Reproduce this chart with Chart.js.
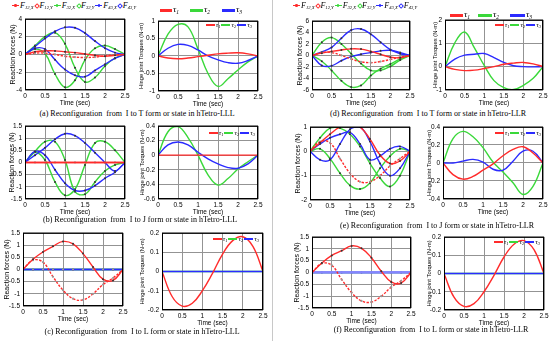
<!DOCTYPE html>
<html>
<head>
<meta charset="utf-8">
<script src="https://cdn.jsdelivr.net/npm/chart.js@4.4.1/dist/chart.umd.min.js"></script>
<style>
  body { margin: 0; width: 550px; height: 341px; position: relative; overflow: hidden; background: #fff; }
  canvas { position: absolute; }
  .cap { position: absolute; font: 8px "Liberation Serif", serif; white-space: pre; transform: translateX(-50%); line-height: 10px; }
  .abs { position: absolute; white-space: nowrap; }
  .sym { font: italic 9px "Liberation Serif", serif; line-height: 10px; }
  .sym sub { font-size: 5.5px; vertical-align: baseline; position: relative; top: 2px; }
  .flg { position: absolute; top: 0; height: 11px; display: flex; align-items: center; white-space: nowrap; font: italic 8px "Liberation Serif", serif; line-height: 10px; }
  .flg .it { display: inline-flex; align-items: center; margin-right: 1px; }
  .flg .mk { position: relative; display: inline-block; height: 6px; margin-right: 1px; }
  .flg sub { font-size: 4.6px; vertical-align: baseline; position: relative; top: 2px; }
  .mini { position: absolute; display: flex; align-items: center; font: italic 7px "Liberation Serif", serif; line-height: 8px; }
  .mini i { display: inline-block; width: 9px; height: 1.5px; margin-right: 1px; }
  .mini sub { font-size: 4.5px; vertical-align: baseline; position: relative; top: 1.5px; margin-right: 1px; }
  #divider { position: absolute; left: 272px; top: 0; width: 1px; height: 341px; background: #c8c8c8; }
</style>
</head>
<body>
<div id="divider"></div>
<script>
'use strict'
/* global Chart */

const t = [0, 0.25, 0.5, 0.75, 1, 1.25, 1.5, 1.75, 2, 2.25, 2.5]
const zero = [0, 0, 0, 0, 0, 0, 0, 0, 0, 0, 0]
const timeTicks = [0, 0.5, 1, 1.5, 2, 2.5]

// (a) I to T, hTetro-LLL
const aF12x = [0, 0.3, 0.4, 0.4, 0.3, 0.2, 0.05, -0.1, -0.2, -0.1, 0]
const aF12y = [0, 0.15, 0.15, 0, -0.2, -0.3, -0.35, -0.3, -0.15, -0.05, 0]
const aF32x = [0, 1.0, 2.0, 2.45, 1.2, -1.5, -3.1, -2.6, -1.3, -0.4, 0]
const aF32y = [0, 0.6, 0.1, -2.2, -3.7, -2.9, -0.6, 0.7, 1.0, 0.6, 0]
const aF43x = [0, 0.9, 1.8, 2.6, 3.05, 3.0, 2.4, 1.5, 0.7, 0.2, 0]
const aF43y = [0, 0.7, 0.6, -0.6, -1.7, -2.35, -2.5, -1.8, -1.1, -0.45, 0]
const aT1 = [0, -0.06, -0.08, -0.06, -0.02, 0.02, 0.06, 0.08, 0.09, 0.06, 0]
const aT2 = [0, 0.62, 0.9, 0.83, 0.2, -0.5, -0.87, -0.65, -0.4, -0.17, 0]
const aT3 = [0, 0.22, 0.33, 0.3, 0.17, 0.0, -0.11, -0.19, -0.21, -0.13, 0]
const aForceTicks = [-4, -2, 0, 2, 4]
const aTorqueTicks = [-1, -0.5, 0, 0.5, 1]

// (b) I to J, hTetro-LLL
const bF32x = [0, 0.45, 0.85, 0.85, 0.1, -1.2, -1.3, -0.8, -0.35, -0.1, 0]
const bF32y = [0, 0.42, 0.1, -0.8, -1.35, -1.1, -0.1, 0.8, 0.85, 0.5, 0]
const bF43x = [0, 0.3, 0.6, 0.95, 1.18, 1.1, 0.8, 0.4, 0.0, -0.35, 0]
const bF43y = [0, 0.45, 0.3, -0.3, -0.85, -1.15, -1.15, -0.95, -0.65, -0.4, 0]
const bT2 = [0, 0.32, 0.39, 0.24, 0.0, -0.27, -0.41, -0.32, -0.19, -0.09, 0]
const bT3 = [0, 0.14, 0.18, 0.14, 0.04, -0.05, -0.12, -0.17, -0.18, -0.12, 0]
const bForceTicks = [-1.5, -1, -0.5, 0, 0.5, 1, 1.5]
const bTorqueTicks = [-0.6, -0.4, -0.2, 0, 0.2, 0.4]

// (c) I to L, hTetro-LLL
const cF12x = [0, 0.42, 0.72, 0.95, 1.15, 1.05, 0.65, 0.1, -0.4, -0.45, 0]
const cF12y = [0, 0.38, 0.3, -0.3, -0.85, -1.2, -1.25, -1.0, -0.62, -0.35, 0]
const cT1 = [0, -0.13, -0.18, -0.165, -0.1, -0.01, 0.09, 0.16, 0.18, 0.13, 0]
const cForceTicks = [-1.5, -1, -0.5, 0, 0.5, 1, 1.5]
const cTorqueTicks = [-0.2, -0.1, 0, 0.1, 0.2]

// (d) I to T, hTetro-LLR
const dF12x = [0, 0.4, 0.7, 0.95, 1.15, 1.1, 0.7, 0.2, -0.3, -0.4, 0]
const dF12y = [0, 0.5, 0.5, 0.0, -0.6, -1.1, -1.25, -1.05, -0.7, -0.3, 0]
const dF32x = [0, 2.3, 3.1, 2.0, 0.3, -1.4, -2.6, -2.6, -1.9, -0.8, 0]
const dF32y = [0, -1.0, -2.6, -4.4, -5.5, -5.2, -3.5, -2.3, -1.5, -0.6, 0]
const dF43x = [0, 0.6, 1.4, 3.0, 4.4, 4.6, 3.7, 2.3, 1.0, 0.3, 0]
const dF43y = [0, -1.75, -1.8, -0.9, -0.2, 0.2, 0.5, 0.8, 0.9, 0.5, 0]
const dT1 = [0, -0.12, -0.17, -0.15, -0.08, 0.0, 0.1, 0.15, 0.18, 0.12, 0]
const dT2 = [0, 1.02, 1.48, 0.8, 0.05, -0.6, -0.9, -0.98, -0.8, -0.5, 0]
const dT3 = [0, 0.32, 0.49, 0.53, 0.56, 0.39, 0.18, 0.04, 0.0, -0.01, 0]
const dForceTicks = [-6, -4, -2, 0, 2, 4, 6]
const dTorqueTicks = [-1, 0, 1, 2]

// (e) I to J, hTetro-LLR
const eF12x = [0, 0.35, 0.7, 1.0, 1.12, 1.0, 0.5, -0.15, -0.5, -0.4, 0]
const eF12y = [0, 0.4, 0.35, -0.3, -0.9, -1.25, -1.25, -1.0, -0.6, -0.3, 0]
const eF32x = [0, 0.55, 0.95, 0.95, 0.7, 0.2, -0.5, -1.1, -1.45, -1.0, 0]
const eF32y = [0, 0.1, -0.3, -0.9, -1.4, -1.55, -1.3, -0.7, -0.2, 0.1, 0]
const eF43x = [0, 0.3, 0.55, 0.7, 0.78, 0.3, -0.35, -0.2, 0.1, 0.2, 0]
const eF43y = [0, -0.35, -0.35, 0.3, 0.9, 1.0, 0.4, -0.5, -1.0, -0.7, 0]
const eT1 = [0, -0.13, -0.18, -0.15, -0.08, -0.01, 0.08, 0.15, 0.18, 0.11, 0]
const eT2 = [0, 0.27, 0.35, 0.29, 0.17, 0.01, -0.1, -0.22, -0.35, -0.26, 0]
const eT3 = [0, 0.0, 0.02, 0.04, 0.01, -0.07, -0.08, 0.02, 0.13, 0.13, 0]
const eForceTicks = [-2, -1, 0, 1]
const eTorqueTicks = [-0.4, -0.2, 0, 0.2, 0.4]

// (f) I to L, hTetro-LLR
const fF12x = [0, 0.4, 0.72, 0.92, 1.12, 1.02, 0.62, 0.05, -0.4, -0.45, 0]
const fF12y = [0, 0.38, 0.3, -0.3, -0.85, -1.2, -1.25, -1.0, -0.62, -0.35, 0]
const fT1 = [0, -0.13, -0.18, -0.165, -0.1, -0.01, 0.09, 0.16, 0.18, 0.13, 0]
const fForceTicks = [-1.5, -1, -0.5, 0, 0.5, 1, 1.5]
const fTorqueTicks = [-0.2, -0.1, 0, 0.1, 0.2]

const forceNames = ['12,X', '12,Y', '32,X', '32,Y', '43,X', '43,Y']
const torqueNames = ['1', '2', '3']
const captions = [
  '(a) Reconfiguration  from  I to T form or state in hTetro-LLL',
  '(b) Reconfiguration  from  I to J form or state in hTetro-LLL',
  '(c) Reconfiguration  from  I to L form or state in hTetro-LLL',
  '(d) Reconfiguration  from  I to T form or state in hTetro-LLR',
  '(e) Reconfiguration  from  I to J form or state in hTetro-LLR',
  '(f) Reconfiguration  from  I to L form or state in hTetro-LLR'
]

const RED = '#ff2b2b'
const GREEN = '#3ad83a'
const BLUE = '#2b2bff'
const LIGHTBLUE = '#8585ff'
const GRID = '#939393'
const PT = 5
const PR = 8
const XH = 18
const tickFont = { family: 'Liberation Sans', size: 6.5 }

const frame = {
  id: 'frame',
  afterDraw (chart) {
    const { ctx, chartArea: a } = chart
    ctx.save()
    ctx.strokeStyle = '#000'
    ctx.lineWidth = 1
    ctx.strokeRect(a.left + 0.5, a.top + 0.5, a.right - a.left - 1, a.bottom - a.top - 1)
    ctx.restore()
  }
}

const setTicks = list => scale => { scale.ticks = list.map(value => ({ value })) }

const line = (values, color, extra) => Object.assign({
  data: t.map((x, i) => ({ x, y: values[i] })),
  borderColor: color,
  backgroundColor: color,
  borderWidth: 1.4,
  pointRadius: 0
}, extra)

const marks = { pointRadius: 1, pointBackgroundColor: '#333', pointBorderWidth: 0 }
const greyMarks = { pointRadius: 1.1, pointBackgroundColor: '#999', pointBorderWidth: 0 }

function addChart (box, yTicks, yTitle, titleSize, datasets) {
  const [left, top, right, bottom, yw] = box
  const canvas = document.createElement('canvas')
  canvas.width = right - left + yw + PR
  canvas.height = bottom - top + PT + XH
  canvas.style.left = (left - yw) + 'px'
  canvas.style.top = (top - PT) + 'px'
  document.body.appendChild(canvas)
  new Chart(canvas, {
    type: 'line',
    data: { datasets },
    options: {
      responsive: false,
      animation: false,
      devicePixelRatio: 1,
      layout: { padding: { top: PT, right: PR, left: 0, bottom: 0 } },
      plugins: { legend: { display: false }, tooltip: { enabled: false } },
      elements: { line: { tension: 0.4 } },
      scales: {
        x: {
          type: 'linear',
          min: 0,
          max: 2.5,
          afterBuildTicks: setTicks(timeTicks),
          afterFit: s => { s.height = XH },
          grid: { color: GRID, drawTicks: false },
          border: { display: false },
          ticks: { font: tickFont, color: '#000', padding: 2, maxRotation: 0, autoSkip: false, callback: v => String(v) },
          title: { display: true, text: 'Time (sec)', font: tickFont, color: '#000', padding: { top: 0, bottom: 1 } }
        },
        y: {
          min: yTicks[0],
          max: yTicks[yTicks.length - 1],
          afterBuildTicks: setTicks(yTicks),
          afterFit: s => { s.width = yw },
          grid: { color: GRID, drawTicks: false },
          border: { display: false },
          ticks: { font: tickFont, color: '#000', padding: 3, autoSkip: false, callback: v => String(v) },
          title: { display: true, text: yTitle, font: { family: 'Liberation Sans', size: titleSize }, color: '#000', padding: { top: 1, bottom: 0 } }
        }
      }
    },
    plugins: [frame]
  })
}

function forceChart (box, yTicks, s, blueZero) {
  const [x12, y12, x32, y32, x43, y43] = s
  const zeroBlue = blueZero === 'light'
    ? { borderColor: LIGHTBLUE, borderWidth: 2.2 }
    : (blueZero ? greyMarks : marks)
  addChart(box, yTicks, 'Reaction forces (N)', 7, [
    line(x12, RED, x12 === zero ? {} : marks),
    line(y12, RED, x12 === zero ? greyMarks : Object.assign({ borderDash: [2.5, 1.5] }, greyMarks)),
    line(x43, BLUE, blueZero ? zeroBlue : marks),
    line(y43, BLUE, blueZero ? zeroBlue : marks),
    line(x32, GREEN, marks),
    line(y32, GREEN, marks)
  ])
}

function torqueChart (box, yTicks, s) {
  const [t1, t2, t3] = s
  addChart(box, yTicks, 'Hinge joint Torques (N-m)', 5.8, [
    line(t1, RED, { borderWidth: 1.4 }),
    line(t3, BLUE, { borderWidth: 1.4 }),
    line(t2, GREEN, { borderWidth: 1.4 })
  ])
}

forceChart([25, 17, 125, 90, 17], aForceTicks, [aF12x, aF12y, aF32x, aF32y, aF43x, aF43y])
torqueChart([158, 19, 258, 91, 21], aTorqueTicks, [aT1, aT2, aT3])
forceChart([25, 124, 125, 199, 18], bForceTicks, [zero, zero, bF32x, bF32y, bF43x, bF43y])
torqueChart([158, 124, 258, 199, 20], bTorqueTicks, [zero, bT2, bT3])
forceChart([23, 231, 123, 306, 21], cForceTicks, [cF12x, cF12y, zero, zero, zero, zero], true)
torqueChart([162, 231, 263, 310, 24], cTorqueTicks, [cT1, zero, zero])
forceChart([312, 19, 410, 90, 17], dForceTicks, [dF12x, dF12y, dF32x, dF32y, dF43x, dF43y])
torqueChart([445, 18, 543, 90, 14], dTorqueTicks, [dT1, dT2, dT3])
forceChart([310, 125, 410, 200, 17], eForceTicks, [eF12x, eF12y, eF32x, eF32y, eF43x, eF43y])
torqueChart([443, 125, 543, 199, 18], eTorqueTicks, [eT1, eT2, eT3])
forceChart([312, 235, 411, 308, 20], fForceTicks, [fF12x, fF12y, zero, zero, zero, zero], 'light')
torqueChart([444, 235, 544, 310, 19], fTorqueTicks, [fT1, zero, zero])

// legends and captions as html text
const colorsF = [RED, RED, GREEN, GREEN, BLUE, BLUE]
const colorsT = [RED, GREEN, BLUE]

function el (cls, html, css) {
  const d = document.createElement('div')
  d.className = cls
  d.innerHTML = html
  Object.assign(d.style, css)
  document.body.appendChild(d)
  return d
}

function forceLegend (x) {
  const html = forceNames.map((name, i) => {
    const c = colorsF[i]
    const mark = i % 2 === 0
      ? `<span class="mk" style="width:7px"><span style="position:absolute;left:0;top:2.4px;width:7px;height:1.2px;background:${c}"></span>` +
        `<span style="position:absolute;left:2.2px;top:1.7px;width:2.6px;height:2.6px;border-radius:50%;background:${c}"></span></span>`
      : `<span class="mk" style="width:4px"><span style="position:absolute;left:0.4px;top:1.4px;width:2.2px;height:2.2px;border:0.8px solid ${c};transform:rotate(45deg)"></span></span>`
    return `<span class="it">${mark}F<sub>${name}</sub></span>`
  }).join('')
  el('flg', html, { left: x + 'px' })
}
forceLegend(12)
forceLegend(293)

function torqueLegend (xs, lens, y) {
  xs.forEach((x, i) => {
    el('abs', '', { left: x + 'px', top: (y - 1.5) + 'px', width: lens[i] + 'px', height: '3px', background: colorsT[i] })
    el('abs sym', `τ<sub>${torqueNames[i]}</sub>`, { left: (x + lens[i] + 1) + 'px', top: (y - 6) + 'px' })
  })
}
torqueLegend([160, 190, 222], [12, 13, 13], 10)
torqueLegend([450, 478, 510], [13, 14, 15], 15)

function miniLegend (xEnd, y) {
  const html = colorsT.map((c, i) => `<i style="background:${c}"></i>τ<sub>${torqueNames[i]}</sub>`).join('')
  el('mini', html, { right: (550 - xEnd) + 'px', top: (y - 4) + 'px' })
}
miniLegend(253, 25)
miniLegend(256, 133)
miniLegend(260, 239)
miniLegend(542, 25)
miniLegend(542, 133)
miniLegend(541, 242)

const capPos = [[137, 114], [140, 220], [142, 332], [428, 114], [437, 226], [431, 330]]
captions.forEach((text, i) => {
  el('cap', '', { left: capPos[i][0] + 'px', top: (capPos[i][1] - 5) + 'px' }).textContent = text
})
</script>
</body>
</html>
